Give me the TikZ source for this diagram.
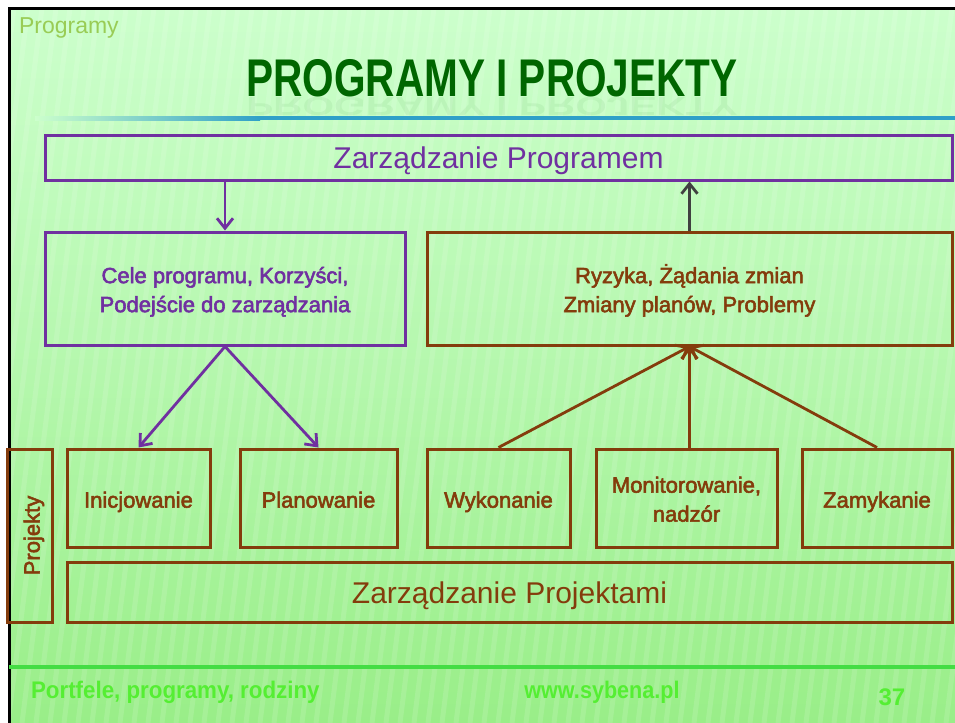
\documentclass[tikz,border=0pt]{standalone}
\usepackage{fontspec}
\setmainfont{Liberation Sans}
\newfontface\semibold{Liberation Sans}[FakeBold=2.5]
\usepackage{graphicx}
\usetikzlibrary{arrows.meta}
\definecolor{bgtop}{HTML}{CCFFCC}
\definecolor{bgbot}{HTML}{99EE88}
\definecolor{progpurple}{HTML}{7030A0}
\definecolor{projbrown}{HTML}{843C0C}
\definecolor{titlegreen}{HTML}{006600}
\definecolor{tabgreen}{HTML}{99CC55}
\definecolor{footgreen}{HTML}{55EE33}
\definecolor{rulegreen}{HTML}{44DD44}
\definecolor{ruleblue}{HTML}{2FA0C8}
\definecolor{upgray}{HTML}{404040}
\newcommand{\liftline}{\rule{0pt}{13.5pt}}
\tikzset{
  slidebox/.style={draw,line width=1.5pt,inner sep=2pt,align=center},
  progbox/.style={slidebox,draw=progpurple,text=progpurple},
  projbox/.style={slidebox,draw=projbrown,text=projbrown},
  infotext/.style={font=\semibold\fontsize{11}{14.5}\selectfont,
    execute at begin node=\rule{0pt}{14pt},execute at end node=\strut},
  mgmttext/.style={font=\fontsize{15}{18}\selectfont,text height=11pt,text depth=0pt},
  stagebox/.style={projbox,infotext,minimum height=49pt},
  purpedge/.style={-{Straight Barb[length=5pt,width=8pt]},line width=1.4pt,progpurple},
  brownedge/.style={-{Straight Barb[length=5pt,width=8pt]},line width=1.4pt,projbrown},
  grayedge/.style={-{Straight Barb[length=5pt,width=8pt]},line width=1.4pt,upgray},
  foottext/.style={text=footgreen,font=\bfseries\fontsize{12}{14}\selectfont},
}

\begin{document}
\begin{tikzpicture}[x=0.5pt,y=-0.5pt]
  \useasboundingbox (0,0) rectangle (955,723);
  % slide background
  \fill[white] (0,0) rectangle (955,723);
  \shade[top color=bgtop,bottom color=bgbot,middle color=bgtop!55!bgbot] (9,8) rectangle (955,723);
  \begin{scope}
    \clip (9,8) rectangle (955,723);
    \foreach \i in {0,14,...,1100}
      \draw[white,opacity=0.12,line width=2.5pt] (\i,8) -- (\i-90,723);
  \end{scope}
  \draw[black,line width=1.5pt] (9,723) -- (9,8) -- (955,8);
  % header
  \node[anchor=west,text=tabgreen,font=\fontsize{11.5}{13}\selectfont] (tab) at (12,28) {Programy};
  \node[text=titlegreen,font=\bfseries\fontsize{26}{30}\selectfont] (title) at (492,78)
    {\scalebox{0.78}[1.02]{PROGRAMY I PROJEKTY}};
  \node[text=titlegreen,opacity=0.06,font=\bfseries\fontsize{26}{30}\selectfont] (titlerefl) at (492,106)
    {\scalebox{0.78}[-0.5]{PROGRAMY I PROJEKTY}};
  \shade[left color=bgtop,right color=ruleblue] (35,116) rectangle (260,120);
  \fill[ruleblue] (260,116) rectangle (955,120);
  % programme level
  \node[progbox,mgmttext,minimum width=453.5pt,minimum height=22.5pt] (progmgmt) at (498.5,157.5) {Zarządzanie Programem};
  \node[progbox,infotext,minimum width=180pt,minimum height=56.5pt] (cele) at (225,288.5)
    {\liftline Cele programu, Korzyści,\\Podejście do zarządzania};
  \node[projbox,infotext,minimum width=262.5pt,minimum height=56.5pt] (ryzyka) at (689.5,288.5)
    {\liftline Ryzyka, Żądania zmian\\Zmiany planów, Problemy};
  % project stages
  \node[stagebox,minimum width=71.5pt] (inic) at (138.5,498) {Inicjowanie};
  \node[stagebox,minimum width=78.5pt] (plan) at (318.5,498) {Planowanie};
  \node[stagebox,minimum width=71.5pt] (wyk) at (498.5,498) {Wykonanie};
  \node[stagebox,minimum width=90.5pt] (monit) at (686.5,498) {\liftline Monitorowanie,\\nadzór};
  \node[stagebox,minimum width=75pt] (zamyk) at (877,498) {Zamykanie};
  \node[projbox,infotext,rotate=90,minimum width=86.5pt,minimum height=22pt] (projekty) at (30,535.5) {Projekty};
  \node[projbox,mgmttext,minimum width=442.5pt,minimum height=30pt] (projmgmt) at (509.5,592) {Zarządzanie Projektami};
  % connectors
  \draw[purpedge] (cele.north |- progmgmt.south) -- (cele.north);
  \draw[grayedge] (ryzyka.north) -- (ryzyka.north |- progmgmt.south);
  \draw[purpedge] (cele.south) -- (inic.north);
  \draw[purpedge] (cele.south) -- (plan.north);
  \draw[brownedge] (wyk.north) -- (ryzyka.south);
  \draw[brownedge] (ryzyka.south |- monit.north) -- (ryzyka.south);
  \draw[brownedge] (zamyk.north) -- (ryzyka.south);
  % footer
  \fill[rulegreen] (9,665) rectangle (955,669);
  \node[foottext,anchor=west] (footl) at (24,692) {\scalebox{0.93}[1]{Portfele, programy, rodziny}};
  \node[foottext] (footm) at (602,692) {\scalebox{0.9}[1]{www.sybena.pl}};
  \node[foottext] (footr) at (892,697) {37};
\end{tikzpicture}
\end{document}
